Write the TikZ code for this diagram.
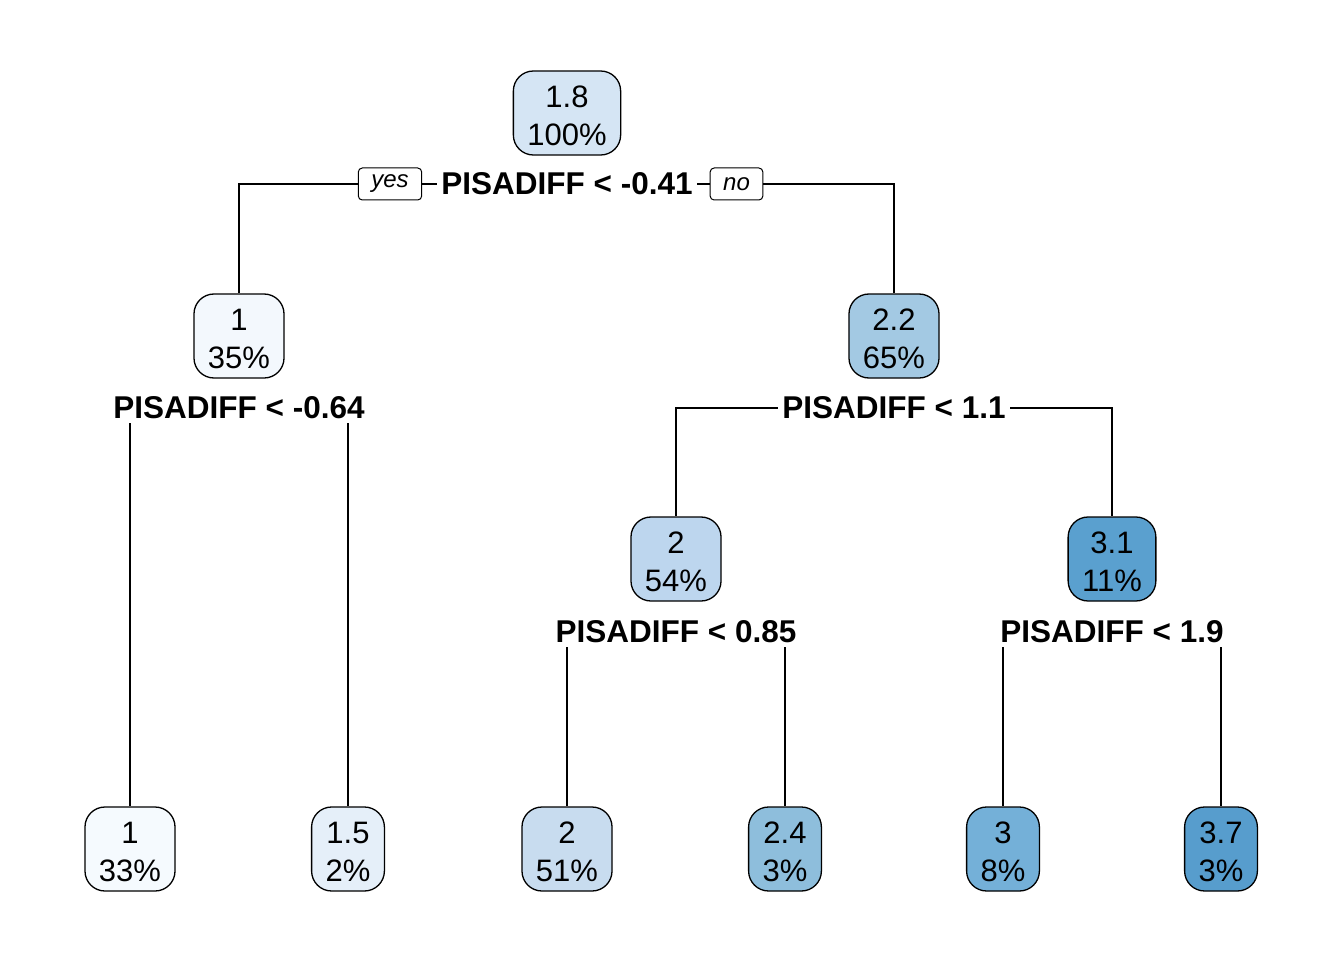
\documentclass[tikz,border=0pt]{standalone}
\usepackage{fontspec}
\setmainfont{Liberation Sans}
\usetikzlibrary{backgrounds}
\definecolor{cA}{HTML}{D5E5F4}
\definecolor{cB}{HTML}{F3F8FD}
\definecolor{cC}{HTML}{A3C9E3}
\definecolor{cD}{HTML}{BDD6EE}
\definecolor{cE}{HTML}{5AA0CF}
\definecolor{cF}{HTML}{F5FAFE}
\definecolor{cG}{HTML}{E5EFF9}
\definecolor{cH}{HTML}{C8DCEF}
\definecolor{cI}{HTML}{8EBEDC}
\definecolor{cJ}{HTML}{74B0D8}
\definecolor{cK}{HTML}{579DCD}
\begin{document}
\begin{tikzpicture}[x=1pt,y=-1pt,
  tnode/.style={draw=black, line width=1.3pt, rounded corners=20pt, align=center,
    font=\fontsize{31}{38}\selectfont, minimum height=84pt, inner xsep=14pt, inner ysep=3pt},
  splitlab/.style={fill=white, inner xsep=4pt, inner ysep=4pt,
    font=\fontsize{31.5}{37}\selectfont\bfseries},
  yn/.style={draw=black, fill=white, rounded corners=4pt, line width=1pt,
    font=\fontsize{24}{28}\selectfont\itshape, minimum height=32pt, inner xsep=13pt, inner ysep=2pt},
  edge/.style={line width=1.2pt}]
\useasboundingbox (0,0) rectangle (1344,960);
% tree nodes
\node[tnode, fill=cA] (root) at (567,113) {\strut1.8\\100\%};
\node[tnode, fill=cB] (n2) at (239,336) {\strut1\\35\%};
\node[tnode, fill=cC] (n3) at (894,336) {\strut2.2\\65\%};
\node[tnode, fill=cD] (n6) at (676,559) {\strut2\\54\%};
\node[tnode, fill=cE] (n7) at (1112,559) {\strut3.1\\11\%};
\node[tnode, fill=cF] (l1) at (130,849) {\strut1\\33\%};
\node[tnode, fill=cG] (l2) at (348,849) {\strut1.5\\2\%};
\node[tnode, fill=cH] (l3) at (567,849) {\strut2\\51\%};
\node[tnode, fill=cI] (l4) at (785,849) {\strut2.4\\3\%};
\node[tnode, fill=cJ] (l5) at (1003,849) {\strut3\\8\%};
\node[tnode, fill=cK] (l6) at (1221,849) {\strut3.7\\3\%};
% split labels
\node[splitlab] (s1) at (567,184) {PISADIFF < -0.41};
\node[splitlab] (s2) at (239,408) {PISADIFF < -0.64};
\node[splitlab] (s3) at (894,408) {PISADIFF < 1.1};
\node[splitlab] (s6) at (676,632) {PISADIFF < 0.85};
\node[splitlab] (s7) at (1112,632) {PISADIFF < 1.9};
\node[yn] (yes) at (390,184) {yes};
\node[yn] (no) at (736.5,184) {no};
% connectors
\begin{scope}[on background layer]
\draw[edge] (s1.center) -| (n2.north);
\draw[edge] (s1.center) -| (n3.north);
\draw[edge] (s2.center) -| (l1.north);
\draw[edge] (s2.center) -| (l2.north);
\draw[edge] (s3.center) -| (n6.north);
\draw[edge] (s3.center) -| (n7.north);
\draw[edge] (s6.center) -| (l3.north);
\draw[edge] (s6.center) -| (l4.north);
\draw[edge] (s7.center) -| (l5.north);
\draw[edge] (s7.center) -| (l6.north);
\end{scope}
\end{tikzpicture}
\end{document}
